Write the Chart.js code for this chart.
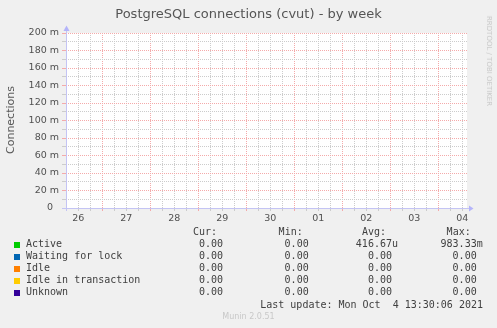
<!DOCTYPE html>
<html>
<head>
<meta charset="utf-8">
<script src="https://cdn.jsdelivr.net/npm/chart.js@4.4.0/dist/chart.umd.min.js"></script>
<style>
body { margin: 0; background: #f0f0f0; }
#wrap { position: relative; width: 497px; height: 328px; overflow: hidden; }
#graph { position: absolute; left: 0; top: 0; }
.t { position: absolute; white-space: pre; line-height: 12px; }
.sans { font-family: "DejaVu Sans", sans-serif; }
.mono { font-family: "DejaVu Sans Mono", monospace; font-size: 10px; color: #404040; }
.sw { position: absolute; width: 6px; height: 6px; }
</style>
</head>
<body>
<div id="wrap">
  <canvas id="graph" width="497" height="328"></canvas>
  <div id="title" class="t sans" style="left:0;width:497px;text-align:center;top:6px;font-size:13px;line-height:15px;color:#555;">PostgreSQL connections (cvut) - by week</div>
  <div class="t sans" style="left:11px;top:120px;font-size:11px;color:#555;transform:translate(-50%,-50%) rotate(-90deg);">Connections</div>
  <div class="t sans" style="left:489px;top:61px;font-size:7px;color:#c8c8c8;transform:translate(-50%,-50%) rotate(90deg);">RRDTOOL / TOBI OETIKER</div>
  <div id="legend"></div>
  <div class="t sans" style="left:0;width:497px;text-align:center;top:311px;font-size:8px;color:#c8c8c8;">Munin 2.0.51</div>
</div>
<script>
// time axis in hours since Sep 26 00:00
var hours = [6, 24, 48, 72, 96, 120, 144, 168, 192, 206];
var active = [0, 0, 0, 0, 0, 0, 0, 0, 0, 0];
var waiting = [0, 0, 0, 0, 0, 0, 0, 0, 0, 0];
var idle = [0, 0, 0, 0, 0, 0, 0, 0, 0, 0];
var idleTx = [0, 0, 0, 0, 0, 0, 0, 0, 0, 0];
var unknown = [0, 0, 0, 0, 0, 0, 0, 0, 0, 0];
var dayLabels = ['26', '27', '28', '29', '30', '01', '02', '03', '04'];

var seriesNames = ['Active', 'Waiting for lock', 'Idle', 'Idle in transaction', 'Unknown'];
var seriesColors = ['#00cc00', '#0066b3', '#ff8000', '#ffcc00', '#330099'];
var curVals = ['0.00', '0.00', '0.00', '0.00', '0.00'];
var minVals = ['0.00', '0.00', '0.00', '0.00', '0.00'];
var avgVals = ['416.67u', '0.00', '0.00', '0.00', '0.00'];
var maxVals = ['983.33m', '0.00', '0.00', '0.00', '0.00'];
var lastUpdate = 'Last update: Mon Oct  4 13:30:06 2021';

var RED = '#f4aaaa';
var GRAY = '#cccccc';

function pts(vals) {
  return hours.map(function(h, i) { return {x: h, y: vals[i]}; });
}

var allSeries = [active, waiting, idle, idleTx, unknown];
var datasets = allSeries.map(function(s, i) {
  return {
    label: seriesNames[i],
    data: pts(s),
    borderColor: seriesColors[i],
    backgroundColor: seriesColors[i],
    borderWidth: 1,
    pointRadius: 0,
    // the zero axis is drawn over the lines, like rrdtool does
    clip: {left: 0, top: 0, right: 0, bottom: -1}
  };
});

var bgPlugin = {
  id: 'plotbg',
  beforeDraw: function(chart) {
    var a = chart.chartArea, ctx = chart.ctx;
    ctx.save();
    ctx.fillStyle = '#ffffff';
    ctx.fillRect(a.left, a.top, a.right - a.left, a.bottom - a.top);
    ctx.restore();
  }
};

var axisPlugin = {
  id: 'rrdaxis',
  afterDatasetsDraw: function(chart) {
    var a = chart.chartArea, ctx = chart.ctx;
    ctx.save();
    ctx.strokeStyle = '#c4c4f4';
    ctx.lineWidth = 1;
    ctx.beginPath();
    ctx.moveTo(a.left - 4, a.bottom + 0.5);
    ctx.lineTo(a.right + 2, a.bottom + 0.5);
    ctx.moveTo(a.left + 0.5, a.bottom + 3);
    ctx.lineTo(a.left + 0.5, a.top - 5);
    ctx.stroke();
    ctx.fillStyle = '#b4b4fa';
    ctx.beginPath();
    ctx.moveTo(a.right + 2, a.bottom - 2.5);
    ctx.lineTo(a.right + 6.5, a.bottom + 0.5);
    ctx.lineTo(a.right + 2, a.bottom + 3.5);
    ctx.closePath();
    ctx.fill();
    ctx.beginPath();
    ctx.moveTo(a.left - 2.5, a.top - 2);
    ctx.lineTo(a.left + 0.5, a.top - 7.5);
    ctx.lineTo(a.left + 3.5, a.top - 2);
    ctx.closePath();
    ctx.fill();
    ctx.restore();
  }
};

new Chart(document.getElementById('graph'), {
  type: 'line',
  data: { datasets: datasets },
  options: {
    responsive: false,
    devicePixelRatio: 1,
    animation: false,
    layout: { padding: { left: 0, top: 33, right: 30, bottom: 0 } },
    plugins: { legend: { display: false }, tooltip: { enabled: false } },
    scales: {
      x: {
        type: 'linear',
        min: 5.85,
        max: 206.35,
        afterBuildTicks: function(scale) {
          var t = [];
          for (var h = 12; h <= 204; h += 6) t.push({value: h});
          scale.ticks = t;
        },
        afterFit: function(scale) { scale.height = 120; },
        grid: {
          color: function(c) { return c.tick && c.tick.value % 24 === 0 ? RED : GRAY; },
          tickColor: function(c) { return c.tick && c.tick.value % 24 === 0 ? RED : GRAY; },
          tickLength: 3,
          lineWidth: 1
        },
        border: { display: false, dash: [1, 1] },
        ticks: {
          autoSkip: false,
          maxRotation: 0,
          padding: 2,
          color: '#505050',
          font: { family: 'DejaVu Sans', size: 9.5 },
          callback: function(v) {
            if (v % 24 !== 12) return '';
            return dayLabels[(v - 12) / 24];
          }
        }
      },
      y: {
        min: 0,
        max: 0.2,
        afterBuildTicks: function(scale) {
          var t = [];
          for (var k = 0; k <= 20; k++) t.push({value: k / 100});
          scale.ticks = t;
        },
        afterFit: function(scale) { scale.width = 66; },
        grid: {
          color: function(c) { return c.tick && Math.round(c.tick.value * 100) % 2 === 0 ? RED : GRAY; },
          tickColor: function(c) { return c.tick && Math.round(c.tick.value * 100) % 2 === 0 ? RED : GRAY; },
          tickLength: 4,
          lineWidth: 1
        },
        border: { display: false, dash: [1, 1] },
        ticks: {
          autoSkip: false,
          padding: 3,
          color: '#505050',
          font: { family: 'DejaVu Sans', size: 9.5 },
          callback: function(v) {
            var m = Math.round(v * 1000);
            if (m % 20 !== 0) return '';
            return m === 0 ? '0  ' : m + ' m';
          }
        }
      }
    }
  },
  plugins: [bgPlugin, axisPlugin]
});

// legend table
var legend = document.getElementById('legend');
function cell(text, right, center, cls) {
  var d = document.createElement('div');
  d.className = 't ' + (cls || 'mono');
  d.textContent = text;
  d.style.right = (497 - right) + 'px';
  d.style.top = (center - 6) + 'px';
  legend.appendChild(d);
}
function val(s) { return /[0-9]$/.test(s) ? s + ' ' : s; }

var colRight = [223, 308.7, 392, 476.7];
['Cur:', 'Min:', 'Avg:', 'Max:'].forEach(function(h, i) {
  cell(h, colRight[i] - 6, 232.3);
});
seriesNames.forEach(function(name, i) {
  var cy = 244.3 + i * 11.95;
  var sw = document.createElement('div');
  sw.className = 'sw';
  sw.style.left = '14px';
  sw.style.top = (cy - 2.5) + 'px';
  sw.style.background = seriesColors[i];
  legend.appendChild(sw);
  var n = document.createElement('div');
  n.className = 't mono';
  n.textContent = name;
  n.style.left = '26px';
  n.style.top = (cy - 6) + 'px';
  legend.appendChild(n);
  cell(val(curVals[i]), colRight[0] + 6, cy);
  cell(val(minVals[i]), colRight[1] + 6, cy);
  cell(val(avgVals[i]), colRight[2] + 6, cy);
  cell(val(maxVals[i]), colRight[3] + 6, cy);
});
cell(lastUpdate, 483, 305);
</script>
</body>
</html>
